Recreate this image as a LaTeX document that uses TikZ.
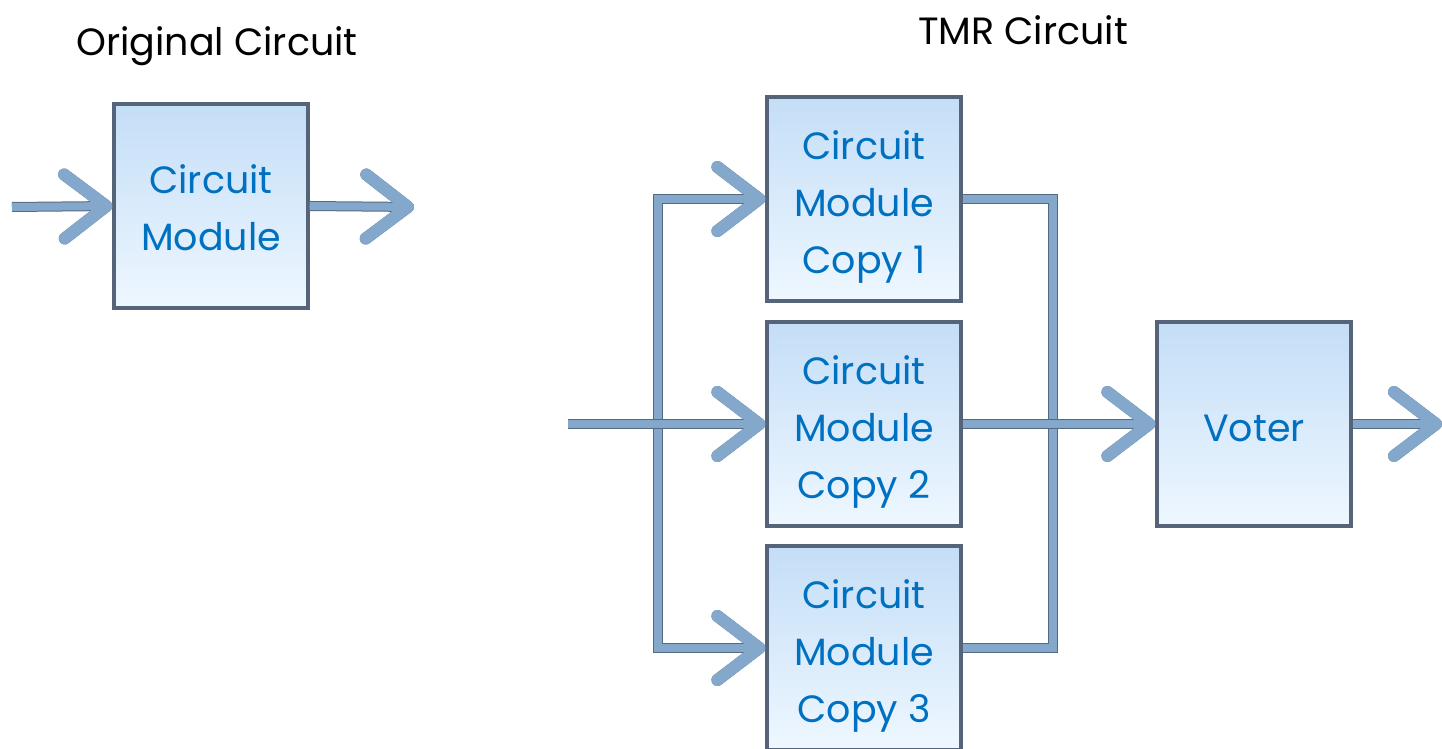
\documentclass[tikz,border=0pt]{standalone}
\usepackage{fontspec}
\setmainfont{Poppins}
\usetikzlibrary{arrows.meta}
\definecolor{boxtext}{RGB}{0,112,192}
\definecolor{boxedge}{RGB}{85,100,120}
\definecolor{boxtop}{RGB}{196,222,247}
\definecolor{boxbot}{RGB}{238,247,255}
\definecolor{wire}{RGB}{132,168,204}
\definecolor{wireedge}{RGB}{85,105,130}
\newcommand{\topgap}{\rule{0pt}{22pt}}

\begin{document}
\begin{tikzpicture}[x=0.5pt,y=-0.5pt,
  module/.style={draw=boxedge,line width=1.6pt,top color=boxtop,bottom color=boxbot,
    text=boxtext,align=center,inner sep=0pt,minimum width=97pt,minimum height=102pt,
    font=\fontsize{19}{28.5}\selectfont},
  title/.style={font=\fontsize{19}{24}\selectfont},
  wire/.style={draw=wire,line width=4pt,line join=miter,
    preaction={draw=wireedge,line width=5pt}},
  feed/.style={wire,-{Straight Barb[length=21pt,width=32pt,line width=6pt,round]}}]
\useasboundingbox (0,0) rectangle (1442,749);
% original circuit
\node [title] (t1) at (217,46) {Original Circuit};
\node [module] (orig) at (211,206) {\rule{0pt}{16pt}Circuit\\Module};
\coordinate (in1) at (12,207);
\coordinate (out1) at (414,207);
\draw [feed] (in1) -- (orig.west);
\draw [feed] (orig.east) -- (out1);
% TMR circuit
\node [title] (t2) at (1023,30) {TMR Circuit};
\node [module] (c1) at (864,199) {\topgap Circuit\\Module\\Copy 1};
\node [module] (c2) at (864,424) {\topgap Circuit\\Module\\Copy 2};
\node [module] (c3) at (864,648) {\topgap Circuit\\Module\\Copy 3};
\node [module] (voter) at (1254,424) {\rule{0pt}{18pt}Voter};
\coordinate (in2) at (568,424);
\coordinate (split) at (658,424);
\coordinate (merge) at (1053,424);
\coordinate (out2) at (1442,424);
% wires
\draw [wire] (c1.east) -| (merge) |- (c3.east);
\draw [feed] (split) |- (c1.west);
\draw [feed] (split) |- (c3.west);
\draw [feed] (in2) -- (c2.west);
\draw [feed] (c2.east) -- (voter.west);
\draw [feed] (voter.east) -- (out2);
\end{tikzpicture}
\end{document}
